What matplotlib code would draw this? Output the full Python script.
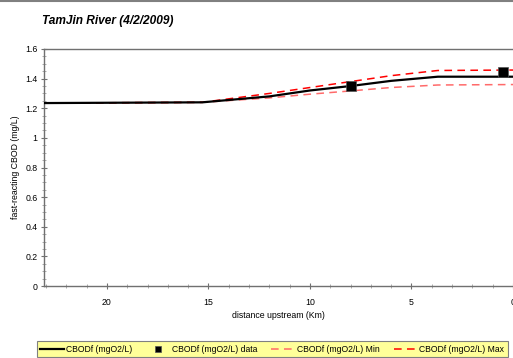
"""TamJin River CBODf profile (matplotlib Agg)."""
import matplotlib
matplotlib.use('Agg')
import matplotlib.pyplot as plt
from matplotlib.lines import Line2D
from matplotlib.ticker import MultipleLocator, FuncFormatter

plt.rcParams['font.family'] = ['Liberation Sans', 'DejaVu Sans']

# Model output along the river (distance upstream in km)
km = [23.1, 15.3, 12, 10, 8, 6, 3.7, 0]
cbodf = [1.235, 1.24, 1.28, 1.32, 1.35, 1.385, 1.413, 1.413]
cbodf_min = [1.235, 1.24, 1.27, 1.295, 1.317, 1.34, 1.357, 1.36]
cbodf_max = [1.235, 1.24, 1.30, 1.34, 1.38, 1.42, 1.455, 1.458]

# Observed data
data_km = [8.0, 0.5]
data_val = [1.35, 1.447]

W, H, DPI = 513, 358, 100
fig = plt.figure(figsize=(W / DPI, H / DPI), dpi=DPI)
ax = fig.add_axes([44 / W, 1 - 286 / H, 1 - 44 / W, (286 - 49) / H])

ax.plot(km, cbodf, color='black', linewidth=1.6, zorder=4,
        label='CBODf (mgO2/L)')
ax.plot(data_km, data_val, 's', color='black', markersize=6.5,
        markeredgecolor='#555555', markeredgewidth=0.5, linestyle='None',
        zorder=5, label='CBODf (mgO2/L) data')
ax.plot(km, cbodf_min, color='#ff6a6a', linewidth=1.1, dashes=(5, 3.5),
        zorder=3, label='CBODf (mgO2/L) Min')
ax.plot(km, cbodf_max, color='red', linewidth=1.1, dashes=(5, 3.5),
        zorder=3, label='CBODf (mgO2/L) Max')

ax.set_xlim(23.1, 0)
ax.set_ylim(0, 1.6)
ax.xaxis.set_major_locator(MultipleLocator(5))
ax.xaxis.set_minor_locator(MultipleLocator(1))
ax.yaxis.set_major_locator(MultipleLocator(0.2))
ax.yaxis.set_minor_locator(MultipleLocator(0.05))
ax.yaxis.set_major_formatter(FuncFormatter(lambda v, p: f'{v:g}'))

spine_c = '#707070'
for s in ('left', 'bottom', 'top'):
    ax.spines[s].set_color(spine_c)
    ax.spines[s].set_linewidth(1.0)
ax.spines['right'].set_visible(False)
ax.tick_params(which='major', direction='inout', length=5, width=0.8,
               color=spine_c, labelsize=6.3, pad=2)
ax.tick_params(which='minor', direction='inout', length=2.5, width=0.6,
               color='#a0a0a0')
ax.tick_params(axis='x', pad=6)

ax.set_xlabel('distance upstream (Km)', fontsize=6.3, labelpad=3)
ax.set_ylabel('fast-reacting CBOD (mg/L)', fontsize=6.3, labelpad=4)

fig.text(42 / W, 1 - 21 / H, 'TamJin River (4/2/2009)', fontsize=8.6,
         fontweight='bold', fontstyle='italic', va='center', ha='left')

# thin grey rule along the top of the figure
fig.add_artist(Line2D([0, 1], [1 - 1 / H, 1 - 1 / H], color='#808080',
                      linewidth=1.5, transform=fig.transFigure))

handles, labels = ax.get_legend_handles_labels()
leg = fig.legend(handles, labels, loc='lower left', ncol=4,
                 bbox_to_anchor=(37 / W, 1 / H), fontsize=6.2,
                 frameon=True, fancybox=False, facecolor='#ffff99',
                 edgecolor='#808080', framealpha=1, handlelength=2.7,
                 handletextpad=0.3, columnspacing=1.6, borderpad=0.4,
                 borderaxespad=0, markerscale=0.65)
leg.get_frame().set_linewidth(0.8)

fig.savefig('out.png', dpi=DPI)
